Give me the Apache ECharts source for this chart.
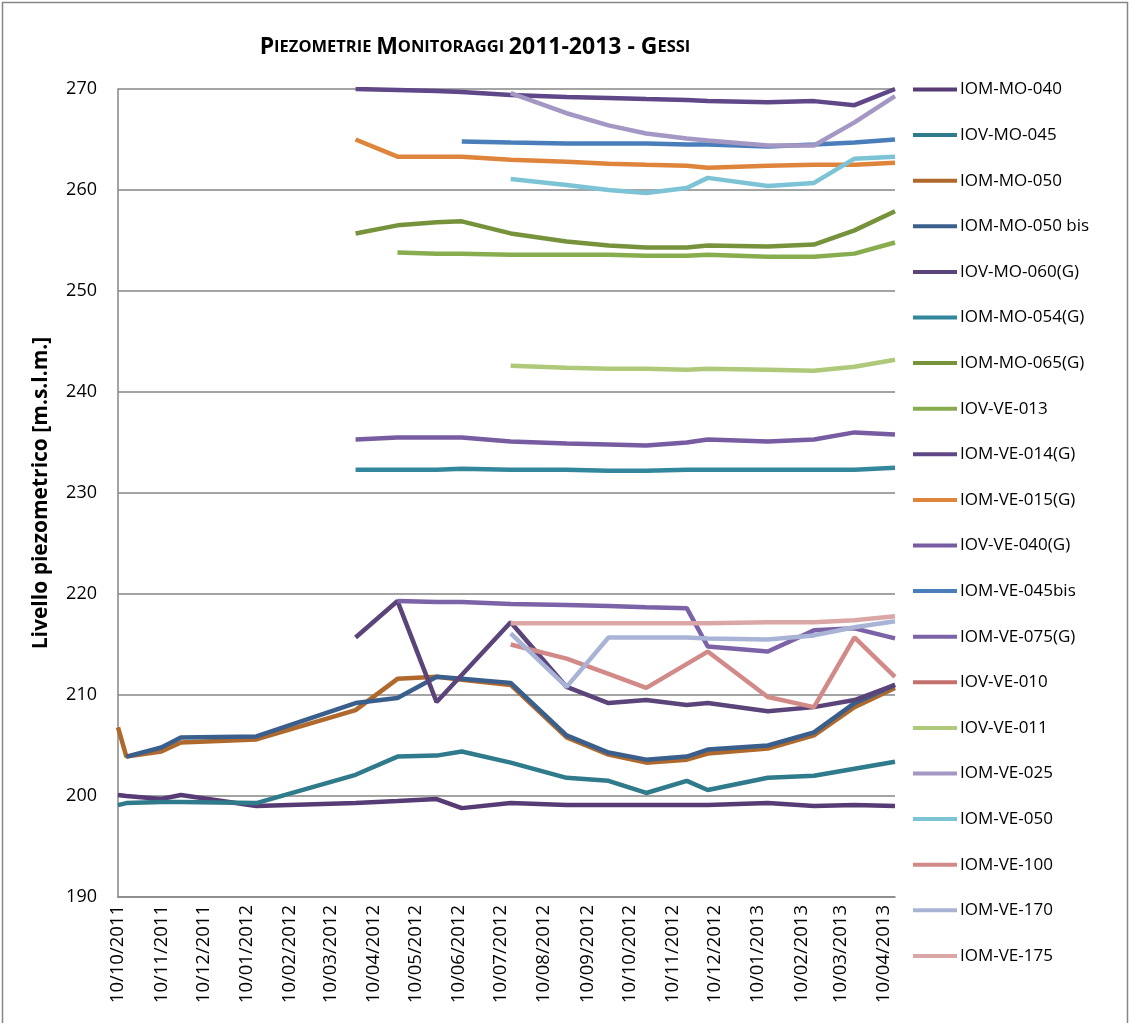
<!DOCTYPE html>
<html>
<head>
<meta charset="utf-8">
<script src="https://cdn.jsdelivr.net/npm/echarts@6/dist/echarts.min.js"></script>
<style>
  html, body { margin: 0; padding: 0; background: #fff; }
  #chart { width: 1130px; height: 1023px; }
</style>
</head>
<body>
<div id="chart"></div>
<script>
// measurement dates (dd/mm/yyyy in the picture)
const dates = ['2011-10-10', '2011-10-16', '2011-11-10', '2011-11-24', '2012-01-17', '2012-03-28',
  '2012-04-27', '2012-05-25', '2012-06-12', '2012-07-17', '2012-08-26', '2012-09-25', '2012-10-22',
  '2012-11-20', '2012-12-05', '2013-01-17', '2013-02-19', '2013-03-20', '2013-04-18'];

const _ = null;
const iomMo040 = [200.1, 200.0, 199.7, 200.1, 199.0, 199.3, 199.5, 199.7, 198.8, 199.3, 199.1, 199.1, 199.1, 199.1, 199.1, 199.3, 199.0, 199.1, 199.0];
const iovMo045 = [199.1, 199.3, 199.4, 199.4, 199.3, 202.1, 203.9, 204.0, 204.4, 203.3, 201.8, 201.5, 200.3, 201.5, 200.6, 201.8, 202.0, 202.7, 203.4];
const iomMo050 = [206.8, 203.9, 204.4, 205.3, 205.6, 208.5, 211.6, 211.8, 211.5, 211.0, 205.8, 204.1, 203.3, 203.6, 204.2, 204.7, 206.0, 208.8, 210.7];
const iomMo050bis = [_, 203.9, 204.8, 205.8, 205.9, 209.2, 209.7, 211.8, 211.6, 211.2, 206.0, 204.3, 203.6, 203.9, 204.6, 205.0, 206.3, 209.2, 211.0];
const iovMo060 = [_, _, _, _, _, 215.7, 219.3, 209.3, _, 217.2, 210.8, 209.2, 209.5, 209.0, 209.2, 208.4, 208.8, 209.5, 211.0];
const iomMo054 = [_, _, _, _, _, 232.3, 232.3, 232.3, 232.4, 232.3, 232.3, 232.2, 232.2, 232.3, 232.3, 232.3, 232.3, 232.3, 232.5];
const iomMo065 = [_, _, _, _, _, 255.7, 256.5, 256.8, 256.9, 255.7, 254.9, 254.5, 254.3, 254.3, 254.5, 254.4, 254.6, 256.0, 257.9];
const iovVe013 = [_, _, _, _, _, _, 253.8, 253.7, 253.7, 253.6, 253.6, 253.6, 253.5, 253.5, 253.6, 253.4, 253.4, 253.7, 254.8];
const iomVe014 = [_, _, _, _, _, 270.0, 269.9, 269.8, 269.7, 269.4, 269.2, 269.1, 269.0, 268.9, 268.8, 268.7, 268.8, 268.4, 270.0];
const iomVe015 = [_, _, _, _, _, 265.0, 263.3, 263.3, 263.3, 263.0, 262.8, 262.6, 262.5, 262.4, 262.2, 262.4, 262.5, 262.5, 262.7];
const iovVe040 = [_, _, _, _, _, 235.3, 235.5, 235.5, 235.5, 235.1, 234.9, 234.8, 234.7, 235.0, 235.3, 235.1, 235.3, 236.0, 235.8];
const iomVe045bis = [_, _, _, _, _, _, _, _, 264.8, 264.7, 264.6, 264.6, 264.6, 264.5, 264.5, 264.3, 264.5, 264.7, 265.0];
const iomVe075 = [_, _, _, _, _, _, 219.3, 219.2, 219.2, 219.0, 218.9, 218.8, 218.7, 218.6, 214.8, 214.3, 216.4, 216.6, 215.6];
const iovVe010 = [];
const iovVe011 = [_, _, _, _, _, _, _, _, _, 242.6, 242.4, 242.3, 242.3, 242.2, 242.3, 242.2, 242.1, 242.5, 243.2];
const iomVe025 = [_, _, _, _, _, _, _, _, _, 269.6, 267.6, 266.4, 265.6, 265.1, 264.9, 264.4, 264.4, 266.7, 269.3];
const iomVe050 = [_, _, _, _, _, _, _, _, _, 261.1, 260.5, 260.0, 259.7, 260.2, 261.2, 260.4, 260.7, 263.1, 263.3];
const iomVe100 = [_, _, _, _, _, _, _, _, _, 215.0, 213.6, 212.1, 210.7, _, 214.3, 209.8, 208.8, 215.7, 211.8];
const iomVe170 = [_, _, _, _, _, _, _, _, _, 216.1, 210.8, 215.7, 215.7, 215.7, 215.6, 215.5, 215.9, 216.7, 217.3];
const iomVe175 = [_, _, _, _, _, _, _, _, _, 217.1, 217.1, 217.1, 217.1, 217.1, 217.1, 217.2, 217.2, 217.4, 217.8];

// tick labels on the 10th of every month
const tickLabels = ['10/10/2011', '10/11/2011', '10/12/2011', '10/01/2012', '10/02/2012', '10/03/2012',
  '10/04/2012', '10/05/2012', '10/06/2012', '10/07/2012', '10/08/2012', '10/09/2012', '10/10/2012',
  '10/11/2012', '10/12/2012', '10/01/2013', '10/02/2013', '10/03/2013', '10/04/2013'];

const seriesList = [
  ['IOM-MO-040', iomMo040, '#563b75'],
  ['IOV-MO-045', iovMo045, '#2f7a8b'],
  ['IOM-MO-050', iomMo050, '#b0692c'],
  ['IOM-MO-050 bis', iomMo050bis, '#3a5f8c'],
  ['IOV-MO-060(G)', iovMo060, '#5a4479'],
  ['IOM-MO-054(G)', iomMo054, '#33879d'],
  ['IOM-MO-065(G)', iomMo065, '#76933c'],
  ['IOV-VE-013', iovVe013, '#88ad4f'],
  ['IOM-VE-014(G)', iomVe014, '#5f4788'],
  ['IOM-VE-015(G)', iomVe015, '#df843b'],
  ['IOV-VE-040(G)', iovVe040, '#785ca2'],
  ['IOM-VE-045bis', iomVe045bis, '#4a7ebb'],
  ['IOM-VE-075(G)', iomVe075, '#7c62a6'],
  ['IOV-VE-010', iovVe010, '#c4706e'],
  ['IOV-VE-011', iovVe011, '#afc97a'],
  ['IOM-VE-025', iomVe025, '#a497c4'],
  ['IOM-VE-050', iomVe050, '#7cc3d5'],
  ['IOM-VE-100', iomVe100, '#d28a88'],
  ['IOM-VE-170', iomVe170, '#a8b3d6'],
  ['IOM-VE-175', iomVe175, '#dba7a6']
];

const parseDay = s => {
  const [y, m, d] = s.split('-').map(Number);
  return Date.UTC(y, m - 1, d);
};
const tickValues = tickLabels.map(t => {
  const [d, m, y] = t.split('/').map(Number);
  return Date.UTC(y, m - 1, d);
});
const pad = n => (n < 10 ? '0' : '') + n;

const FONT = '"Open Sans", "Liberation Sans", sans-serif';

const chart = echarts.init(document.getElementById('chart'), null, { renderer: 'canvas' });

chart.setOption({
  animation: false,
  backgroundColor: '#fff',
  textStyle: { fontFamily: FONT },
  graphic: [{
    type: 'rect',
    shape: { x: 2.5, y: 2.5, width: 1125, height: 1040 },
    style: { fill: 'none', stroke: '#868686', lineWidth: 1.5 },
    silent: true
  }],
  title: {
    text: '{c|P}{s|IEZOMETRIE} {c|M}{s|ONITORAGGI} {c|2011-2013 - G}{s|ESSI}',
    left: 470,
    textAlign: 'center',
    top: 31,
    textStyle: {
      rich: {
        c: { fontFamily: FONT, fontSize: 23, fontWeight: 'bold', color: '#000' },
        s: { fontFamily: FONT, fontSize: 16.5, fontWeight: 'bold', color: '#000' }
      }
    }
  },
  legend: {
    orient: 'vertical',
    left: 908,
    top: 76,
    itemWidth: 44,
    itemHeight: 18,
    itemGap: 28.6,
    icon: 'path://M0,7 L44,7 L44,11 L0,11 Z',
    textStyle: { fontFamily: FONT, fontSize: 17, color: '#000', padding: [0, 0, 0, -2] },
    data: seriesList.map(s => s[0])
  },
  grid: { left: 118, right: 235, top: 89, bottom: 126, containLabel: false },
  xAxis: {
    type: 'value',
    min: parseDay('2011-10-10'),
    max: parseDay('2013-04-18'),
    axisLine: { show: true, onZero: false, lineStyle: { color: '#868686', width: 1.5 } },
    axisTick: { show: false },
    splitLine: { show: false },
    axisLabel: {
      customValues: tickValues,
      rotate: 90,
      margin: 8,
      fontFamily: FONT,
      fontSize: 18.5,
      color: '#000',
      hideOverlap: false,
      formatter: v => {
        const d = new Date(v);
        return pad(d.getUTCDate()) + '/' + pad(d.getUTCMonth() + 1) + '/' + d.getUTCFullYear();
      }
    }
  },
  yAxis: {
    type: 'value',
    min: 190,
    max: 270,
    interval: 10,
    name: 'Livello piezometrico [m.s.l.m.]',
    nameLocation: 'middle',
    nameGap: 66,
    nameTextStyle: { fontFamily: FONT, fontSize: 21, fontWeight: 'bold', color: '#000' },
    axisLine: { show: true, lineStyle: { color: '#868686', width: 1.5 } },
    axisTick: { show: false },
    splitLine: { lineStyle: { color: '#868686', width: 1.5 } },
    axisLabel: { fontFamily: FONT, fontSize: 18, color: '#000', margin: 21 }
  },
  series: seriesList.map(([name, vals, color]) => ({
    name,
    type: 'line',
    symbol: 'none',
    connectNulls: true,
    color,
    lineStyle: { color, width: 4.5 },
    data: vals.map((v, i) => [parseDay(dates[i]), v])
  }))
});
</script>
</body>
</html>
